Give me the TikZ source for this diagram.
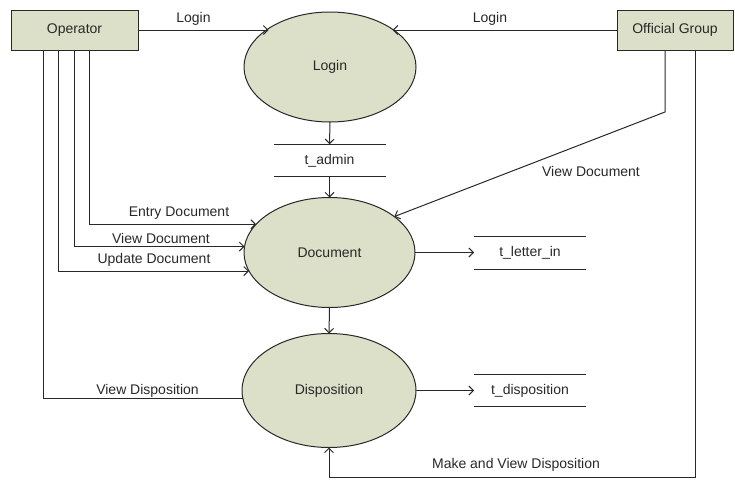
\documentclass[tikz,border=0pt]{standalone}
\usepackage{fontspec}
\setmainfont{Liberation Sans}
\usetikzlibrary{shapes.geometric,arrows.meta}
\definecolor{fillc}{RGB}{220,224,200}
\definecolor{linec}{RGB}{40,40,40}
\definecolor{textc}{RGB}{40,40,40}
\begin{document}
\begin{tikzpicture}[x=1pt,y=-1pt,
  every node/.style={font=\fontsize{14}{16}\selectfont, text=textc},
  entity/.style={draw=linec, line width=1pt, fill=fillc, minimum height=40pt, inner sep=0pt, outer sep=0pt},
  proc/.style={draw=linec, line width=1pt, fill=fillc, ellipse, inner sep=0pt, outer sep=0pt},
  store/.style={minimum width=112pt, minimum height=32.5pt, inner sep=0pt, outer sep=0pt},
  flow/.style={draw=linec, line width=1pt},
  arr/.style={flow, -{Straight Barb[length=4.5pt,width=9pt]}},
  lbl/.style={inner sep=0pt}]
\useasboundingbox (0,0) rectangle (735,479);

% entities
\node[entity, minimum width=127pt] (op) at (74.5,30) {Operator};
\node[entity, minimum width=116pt] (og) at (675,30) {Official Group};

% processes
\node[proc, minimum width=172pt, minimum height=110pt] (login) at (330,67) {Login};
\node[proc, minimum width=171pt, minimum height=110pt] (doc) at (329.5,252.5) {Document};
\node[proc, minimum width=174pt, minimum height=114pt] (disp) at (329,390.5) {Disposition};

% stores
\node[store] (tadmin) at (329.5,160.5) {t\_admin};
\node[store] (tletter) at (530,253) {t\_letter\_in};
\node[store] (tdisp) at (530,390.5) {t\_disposition};
\foreach \s in {tadmin,tletter,tdisp}{
  \draw[flow] (\s.north west) -- (\s.north east);
  \draw[flow] (\s.south west) -- (\s.south east);
}

% flows
\draw[arr] (op.east) -- (op.east -| login.148.5);
\draw[arr] (og.west) -- (og.west -| login.31.5);
\draw[arr] (login.south) -- (tadmin.north);
\draw[arr] (tadmin.south) -- (doc.north);
\draw[arr] (og.south -| 665,0) -- (665,112) -- (doc.29.6);
\draw[arr] (op.south -| 89,0) |- (doc.159.3);
\draw[arr] (op.south -| 74,0) |- (doc.176.7);
\draw[arr] (op.south -| 58,0) |- (doc.193.2);
\draw[flow] (op.south -| 43,0) |- (disp.185.6);
\draw[arr] (doc.east) -- (doc.east -| tletter.west);
\draw[arr] (disp.east) -- (disp.east -| tdisp.west);
\draw[arr] (doc.south) -- (disp.north);
\draw[arr] (og.south -| 695,0) |- (disp.south |- 0,477) -- (disp.south);

% labels
\node[lbl] (l1) at (193.5,19) {Login};
\node[lbl] (l2) at (490,19) {Login};
\node[lbl] (l3) at (591,171) {View Document};
\node[lbl] (l4) at (179,213) {Entry Document};
\node[lbl] (l5) at (161,238) {View Document};
\node[lbl] (l6) at (154,260) {Update Document};
\node[lbl] (l7) at (147.5,390.5) {View Disposition};
\node[lbl] (l8) at (516,465) {Make and View Disposition};
\end{tikzpicture}
\end{document}
